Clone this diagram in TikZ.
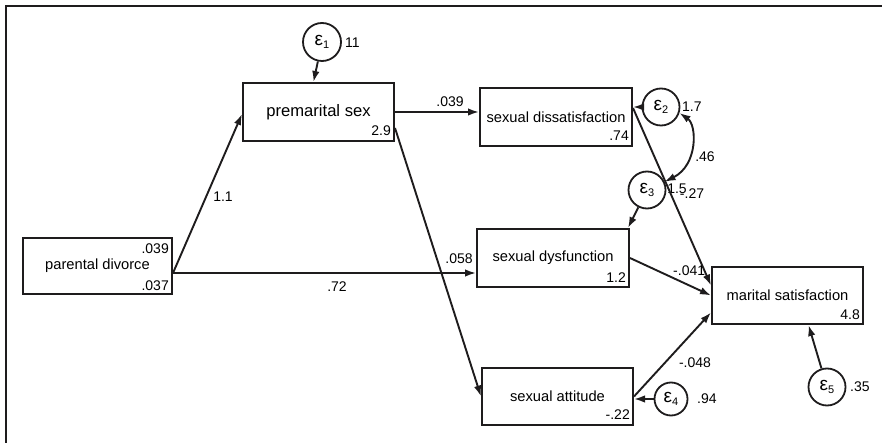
\documentclass[tikz,border=0pt]{standalone}
\usepackage{fontspec}
\setmainfont{Liberation Sans}
\usetikzlibrary{arrows.meta,calc}
\definecolor{ink}{HTML}{1E1C1D}
\newcommand{\epsx}[1]{{\fontsize{19}{19}\selectfont ε}\raisebox{-3pt}{\fontsize{11}{11}\selectfont #1}}
\begin{document}
\begin{tikzpicture}[x=1pt,y=-1pt,
  box/.style={draw=ink, line width=2pt, minimum width=151pt, minimum height=58pt, inner sep=0pt, font=\fontsize{14.7}{16}\selectfont},
  err/.style={draw=ink, circle, line width=1.8pt, minimum size=37pt, inner sep=0pt},
  arr/.style={draw=ink, line width=1.9pt, -{Latex[length=11pt,width=7.5pt]}},
  arrtwo/.style={draw=ink, line width=1.9pt, {Latex[length=11pt,width=7.5pt]}-{Latex[length=11pt,width=7.5pt]}},
  num/.style={inner sep=0pt, font=\fontsize{14}{16}\selectfont},
]
\useasboundingbox (0,0) rectangle (882,443);
\draw[ink, line width=2.2pt] (6,443) -- (6,6) -- (882,6);

% boxes
\node[box, font=\fontsize{16.6}{18}\selectfont] (pm) at (318.5,112) {premarital sex};
\node[box, minimum width=152pt] (sx) at (556,117) {sexual dissatisfaction};
\node[box, minimum width=152pt] (sd) at (553,258) {sexual dysfunction};
\node[box, minimum height=57pt] (sa) at (557.5,396.5) {sexual attitude};
\node[box, minimum height=57pt] (ms) at (787.5,295.5) {marital satisfaction};
\node[box, minimum width=149pt, minimum height=56pt] (pd) at (97.5,266) {parental divorce};

% box values
\node[num, anchor=base east] (pmv) at ([xshift=-4pt,yshift=6pt]pm.south east) {2.9};
\node[num, anchor=base east] (sxv) at ([xshift=-4pt,yshift=6pt]sx.south east) {.74};
\node[num, anchor=base east] (sdv) at ([xshift=-4pt,yshift=6pt]sd.south east) {1.2};
\node[num, anchor=base east] (sav) at ([xshift=-4pt,yshift=7pt]sa.south east) {-.22};
\node[num, anchor=base east] (msv) at ([xshift=-4pt,yshift=6pt]ms.south east) {4.8};
\node[num, anchor=base east] (pdv) at ([xshift=-4pt,yshift=5pt]pd.south east) {.037};
\node[num, anchor=base east] (pdm) at ([xshift=-4pt,yshift=-17pt]pd.north east) {.039};

% error terms
\node[err, minimum size=38pt] (e1) at (322,42) {\epsx{1}};
\node[err] (e2) at (661,107) {\epsx{2}};
\node[err] (e3) at (647,190) {\epsx{3}};
\node[err, minimum size=33pt] (e4) at (671,399) {\epsx{4}};
\node[err] (e5) at (827,387) {\epsx{5}};

\node[num, anchor=west] (e1v) at (345,43) {11};
\node[num, anchor=west] (e2v) at (682,107) {1.7};
\node[num] (e3v) at (677,189) {1.5};
\node[num, anchor=west] (e4v) at (697,399) {.94};
\node[num, anchor=west] (e5v) at (850,387) {.35};

% paths
\draw[arr] (e1) -- ([xshift=-5pt]pm.north);
\draw[arr] ([yshift=-7pt]pd.east) -- ([yshift=-2pt]pm.west);
\draw[arr] ([yshift=-7pt]pd.east) -- ([yshift=-7pt]pd.east -| sd.west);
\draw[arr] (pm.east) -- (pm.east -| sx.west);
\draw[arr] ([yshift=-16pt]pm.east) -- (sa.west);
\draw[arr] (e2) -- (e2 -| sx.east);
\draw[arr] ([yshift=9pt]sx.east) -- ([yshift=10pt]ms.west);
\draw[arr] (e3) -- ([xshift=-2pt]sd.north east);
\draw[arr] (sd.east) -- (ms.west);
\draw[arr] (e4) -- (e4 -| sa.east);
\draw[arr] (sa.east) -- ([yshift=-17pt]ms.west);
\draw[arr] (e5) -- ([xshift=21pt]ms.south);
\draw[arrtwo] (e2.-18) .. controls (697,125) and (698,165) .. (e3.25);

% path labels
\node[num] (l1) at (223,197) {1.1};
\node[num] (l2) at (337,287) {.72};
\node[num] (l3) at (450,102) {.039};
\node[num] (l4) at (459,259) {.058};
\node[num] (l5) at (705,157) {.46};
\node[num] (l6) at (692,194) {-.27};
\node[num, anchor=west] (l7) at (673,271) {-.041};
\node[num] (l8) at (695,363) {-.048};
\end{tikzpicture}
\end{document}
